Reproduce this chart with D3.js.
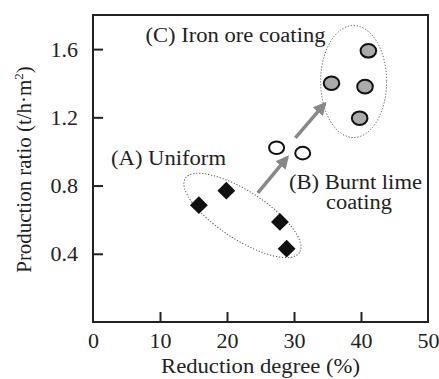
<!DOCTYPE html>
<html>
<head>
<meta charset="utf-8">
<script src="https://cdn.jsdelivr.net/npm/d3@7"></script>
<style>
  body { margin: 0; background: #fff; }
  svg text { font-family: "Liberation Serif", "DejaVu Serif", serif; }
</style>
</head>
<body>
<div id="chart"></div>
<script>
// data
const uniformX = [15.8, 19.9, 27.9, 28.9];
const uniformY = [0.685, 0.77, 0.587, 0.43];
const limeX = [27.4, 31.3];
const limeY = [1.022, 0.99];
const ironX = [41.1, 35.6, 40.6, 39.8];
const ironY = [1.59, 1.40, 1.38, 1.195];
const xTicks = [0, 10, 20, 30, 40, 50];
const yTicks = [0.4, 0.8, 1.2, 1.6];

const width = 439, height = 379;
const margin = { top: 15, right: 11, bottom: 57, left: 93 };
const innerW = width - margin.left - margin.right;
const innerH = height - margin.top - margin.bottom;
const serif = '"Liberation Serif", "DejaVu Serif", serif';

const svg = d3.select('#chart').append('svg')
  .attr('width', width)
  .attr('height', height)
  .attr('font-family', serif);

const x = d3.scaleLinear().domain([0, 50]).range([0, innerW]);
const y = d3.scaleLinear().domain([0, 1.8]).range([innerH, 0]);

const g = svg.append('g')
  .attr('transform', `translate(${margin.left},${margin.top})`);

// frame
g.append('rect')
  .attr('width', innerW).attr('height', innerH)
  .attr('fill', 'none').attr('stroke', '#222').attr('stroke-width', 2);

// axes with inward ticks
const xAxis = d3.axisBottom(x).tickValues(xTicks).tickSize(-10).tickPadding(10)
  .tickFormat(d3.format('d'));
const xAxisG = g.append('g').attr('transform', `translate(0,${innerH})`).call(xAxis)
  .attr('font-family', serif).attr('font-size', 22);
xAxisG.select('.domain').remove();
xAxisG.selectAll('line').attr('stroke', '#222').attr('stroke-width', 2)
  .filter(d => d === 0 || d === 50).remove();
xAxisG.selectAll('text').attr('fill', '#222');

const yAxis = d3.axisLeft(y).tickValues(yTicks).tickSize(-10).tickPadding(15)
  .tickFormat(d3.format('.1f'));
const yAxisG = g.append('g').call(yAxis)
  .attr('font-family', serif).attr('font-size', 22);
yAxisG.select('.domain').remove();
yAxisG.selectAll('line').attr('stroke', '#222').attr('stroke-width', 2);
yAxisG.selectAll('text').attr('fill', '#222');

// axis labels
svg.append('text')
  .attr('x', margin.left + innerW / 2).attr('y', 373)
  .attr('text-anchor', 'middle').attr('font-size', 21).attr('fill', '#222')
  .attr('textLength', 199).attr('lengthAdjust', 'spacingAndGlyphs')
  .text('Reduction degree (%)');

const yl = svg.append('text')
  .attr('transform', `translate(31,${margin.top + innerH / 2 + 1}) rotate(-90)`)
  .attr('text-anchor', 'middle').attr('font-size', 21).attr('fill', '#222');
yl.append('tspan').attr('textLength', 193).attr('lengthAdjust', 'spacingAndGlyphs')
  .text('Production ratio (t/h·m');
yl.append('tspan').attr('dy', -8).attr('font-size', 13).text('2');
yl.append('tspan').attr('dy', 8).text(')');

// dotted group ellipses
const ellA = { cx: 22.3, cy: 0.625, rx: 68, ry: 24, rot: 33 };
const ellC = { cx: 38.9, cy: 1.41, rx: 33, ry: 56, rot: 0 };
[ellA, ellC].forEach(e => {
  g.append('ellipse')
    .attr('transform', `translate(${x(e.cx)},${y(e.cy)}) rotate(${e.rot})`)
    .attr('rx', e.rx).attr('ry', e.ry)
    .attr('fill', 'none').attr('stroke', '#555').attr('stroke-width', 1)
    .attr('stroke-dasharray', '1.2,1.8');
});

// arrows
svg.append('defs').append('marker')
  .attr('id', 'head').attr('viewBox', '0 0 10 10')
  .attr('refX', 8).attr('refY', 5)
  .attr('markerWidth', 3.8).attr('markerHeight', 3.8)
  .attr('orient', 'auto')
  .append('path').attr('d', 'M0,0 L10,5 L0,10 z').attr('fill', '#888');

const arrowsFrom = [[24.6, 0.757], [30.2, 1.08]];
const arrowsTo = [[29.0, 0.965], [34.6, 1.28]];
arrowsFrom.forEach((f, i) => {
  g.append('line')
    .attr('x1', x(f[0])).attr('y1', y(f[1]))
    .attr('x2', x(arrowsTo[i][0])).attr('y2', y(arrowsTo[i][1]))
    .attr('stroke', '#888').attr('stroke-width', 3.5)
    .attr('marker-end', 'url(#head)');
});

// points
const diamond = d3.symbol().type(d3.symbolSquare).size(160);
g.selectAll('.dia').data(uniformX.map((v, i) => [v, uniformY[i]]))
  .enter().append('path')
  .attr('d', diamond)
  .attr('transform', d => `translate(${x(d[0])},${y(d[1])}) rotate(45)`)
  .attr('fill', '#111');

g.selectAll('.lime').data(limeX.map((v, i) => [v, limeY[i]]))
  .enter().append('ellipse')
  .attr('cx', d => x(d[0])).attr('cy', d => y(d[1]))
  .attr('rx', 7.5).attr('ry', 6.3)
  .attr('fill', '#fff').attr('stroke', '#111').attr('stroke-width', 2);

g.selectAll('.iron').data(ironX.map((v, i) => [v, ironY[i]]))
  .enter().append('ellipse')
  .attr('cx', d => x(d[0])).attr('cy', d => y(d[1]))
  .attr('rx', 7.8).attr('ry', 6.8)
  .attr('fill', '#aaa').attr('stroke', '#111').attr('stroke-width', 2);

// group labels
const labels = [
  { t: '(C) Iron ore coating', x: 145.5, y: 42, w: 180 },
  { t: '(A) Uniform', x: 111, y: 165, w: 115 },
  { t: '(B) Burnt lime', x: 289, y: 189, w: 133 },
  { t: 'coating', x: 326, y: 209, w: 66 }
];
svg.selectAll('.lab').data(labels).enter().append('text')
  .attr('x', d => d.x).attr('y', d => d.y)
  .attr('font-size', 20.5).attr('fill', '#222')
  .attr('textLength', d => d.w).attr('lengthAdjust', 'spacingAndGlyphs')
  .text(d => d.t);
</script>
</body>
</html>
